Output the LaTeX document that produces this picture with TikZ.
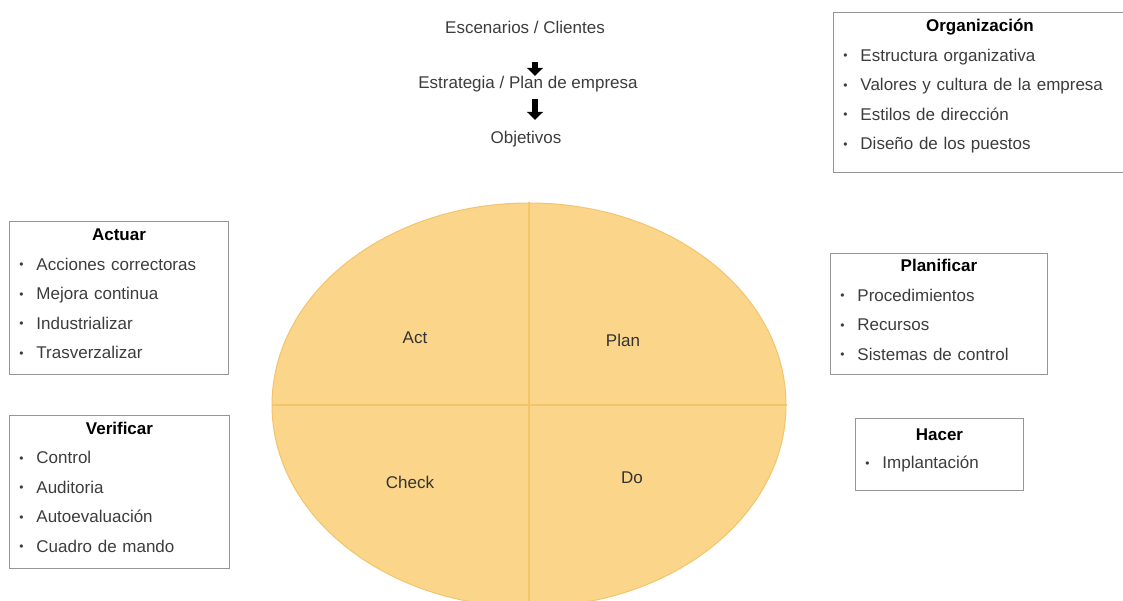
\documentclass[tikz,border=0pt]{standalone}
\usepackage{fontspec}
\setmainfont{Liberation Sans}
\usetikzlibrary{arrows.meta,shapes.geometric,positioning}

\definecolor{pdcafill}{RGB}{251,213,137}
\definecolor{pdcaline}{RGB}{243,196,108}
\definecolor{boxgray}{RGB}{150,150,150}
\definecolor{txtgray}{RGB}{60,60,60}

% small bullet for the lists
\newcommand{\bul}{\makebox[17pt][l]{\raisebox{1.5pt}{\fontsize{12}{12}\selectfont\textbullet}}}

\tikzset{
  listbox/.style={draw=boxgray, line width=0.9pt, anchor=north west, align=left,
    inner xsep=10pt, inner ysep=0pt, text=txtgray, font=\fontsize{17}{29.5}\selectfont},
  plain/.style={text=txtgray, font=\fontsize{17}{20}\selectfont, inner sep=0pt,
    text height=12.5pt, text depth=3.5pt},
  quad/.style={text=black!80, font=\fontsize{17}{20}\selectfont},
  downarrow/.style={line width=6pt, -{Triangle[width=16pt,length=8pt]}},
}

\begin{document}
\begin{tikzpicture}[x=1pt,y=-1pt]
    \useasboundingbox (0,0) rectangle (1123,601);

    % chain at the top
    \node[plain] (escen) at (525,29) {Escenarios / Clientes};
    \node[plain] (estrat) at (528,84) {Estrategia / Plan de empresa};
    \node[plain] (obj) at (526,139) {Objetivos};

    \draw[downarrow, shorten <=25pt, shorten >=0pt] ([xshift=10pt]escen.south) -- ([xshift=10pt]escen.south |- estrat.north);
    \draw[downarrow, shorten <=7pt, shorten >=11pt] ([xshift=7pt]estrat.south) -- ([xshift=7pt]estrat.south |- obj.north);

    % the cycle
    \node[ellipse, draw=pdcaline, fill=pdcafill, line width=1pt, inner sep=0pt,
      minimum width=514pt, minimum height=404pt] (pdca) at (529,405) {};
    \draw[pdcaline, line width=1.4pt] (pdca.north) -- (pdca.south);
    \draw[pdcaline, line width=1.4pt] (pdca.west) -- (pdca.east);

    \node[quad] (act) at (415,338) {Act};
    \node[quad] (plan) at (623,340) {Plan};
    \node[quad] (check) at (410,482) {Check};
    \node[quad] (do) at (632,478) {Do};

    % boxes (the rule at the end of each list lifts the text)
    \node[listbox, text width=273pt, minimum height=160pt] (org) at (833,12) {%
      {\centering\color{black}\bfseries Organización\par}
      \bul Estructura organizativa\par
      \bul Valores y cultura de la empresa\par
      \bul Estilos de dirección\par
      \bul Diseño de los puestos\rule[-16pt]{0pt}{0pt}};

    \node[listbox, text width=199pt, minimum height=153pt] (actuar) at (9,221) {%
      {\centering\color{black}\bfseries Actuar\par}
      \bul Acciones correctoras\par
      \bul Mejora continua\par
      \bul Industrializar\par
      \bul Trasverzalizar\rule[-8pt]{0pt}{0pt}};

    \node[listbox, text width=200pt, minimum height=153pt] (verif) at (9,415) {%
      {\centering\color{black}\bfseries Verificar\par}
      \bul Control\par
      \bul Auditoria\par
      \bul Autoevaluación\par
      \bul Cuadro de mando\rule[-10pt]{0pt}{0pt}};

    \node[listbox, text width=197pt, minimum height=121pt] (planif) at (830,253) {%
      {\centering\color{black}\bfseries Planificar\par}
      \bul Procedimientos\par
      \bul Recursos\par
      \bul Sistemas de control\rule[-8pt]{0pt}{0pt}};

    \node[listbox, text width=148pt, minimum height=72pt, font=\fontsize{17}{28}\selectfont] (hacer) at (855,418) {%
      {\centering\color{black}\bfseries Hacer\par}
      \bul Implantación\rule[-11pt]{0pt}{0pt}};
\end{tikzpicture}
\end{document}
